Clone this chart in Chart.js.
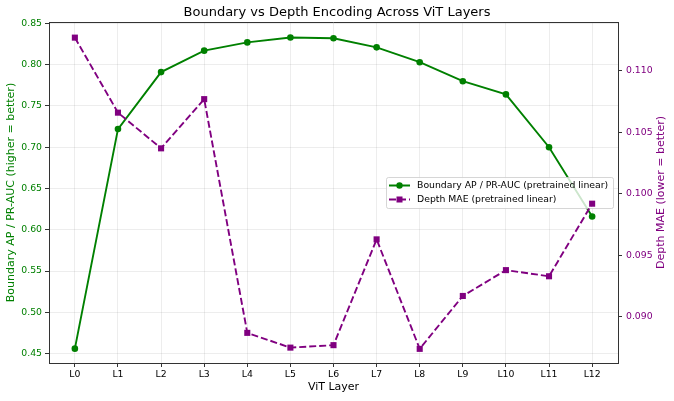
<!DOCTYPE html>
<html>
<head>
<meta charset="utf-8">
<script src="https://cdn.jsdelivr.net/npm/chart.js@4.4.1/dist/chart.umd.min.js"></script>
<style>
  html, body { margin: 0; padding: 0; background: #ffffff; }
  #wrap { width: 674px; height: 401px; position: relative; }
</style>
</head>
<body>
<div id="wrap"><canvas id="c" width="674" height="401"></canvas></div>
<script>
// ---- data ----
const layers = ["L0","L1","L2","L3","L4","L5","L6","L7","L8","L9","L10","L11","L12"];
const boundaryAP = [0.456, 0.722, 0.791, 0.817, 0.827, 0.833, 0.832, 0.821, 0.803, 0.780, 0.764, 0.700, 0.616];
const depthMAE = [0.1127, 0.1066, 0.1037, 0.1077, 0.0887, 0.0875, 0.0877, 0.0963, 0.0874, 0.0917, 0.0938, 0.0933, 0.0992];
const leftTicks = [0.45, 0.50, 0.55, 0.60, 0.65, 0.70, 0.75, 0.80, 0.85];
const rightTicks = [0.090, 0.095, 0.100, 0.105, 0.110];
const seriesLabels = ["Boundary AP / PR-AUC (pretrained linear)", "Depth MAE (pretrained linear)"];
const rightTitle = 'Depth MAE (lower = better)';

const GREEN = '#008000';
const PURPLE = '#800080';
const FONT = "'DejaVu Sans', sans-serif";

const toPts = arr => arr.map((v, i) => ({ x: i, y: v }));

const legendPlugin = {
  id: 'mplLegend',
  beforeDatasetDraw(chart, args) {
    if (args.index !== 1) return;
    const ctx = chart.ctx;
    const x0 = 386, y0 = 177, w = 227, h = 31;
    ctx.save();
    ctx.fillStyle = 'rgba(255,255,255,0.8)';
    ctx.strokeStyle = 'rgba(204,204,204,0.8)';
    ctx.lineWidth = 1;
    ctx.beginPath();
    if (ctx.roundRect) ctx.roundRect(x0 + 0.5, y0 + 0.5, w, h, 2); else ctx.rect(x0 + 0.5, y0 + 0.5, w, h);
    ctx.fill();
    ctx.stroke();
    const rows = [
      { y: 185.5, color: GREEN, style: 'circle', dash: [] },
      { y: 199.5, color: PURPLE, style: 'rect', dash: [7, 3] }
    ];
    rows.forEach((r, i) => {
      ctx.strokeStyle = r.color;
      ctx.lineWidth = 2;
      ctx.setLineDash(r.dash);
      ctx.beginPath();
      ctx.moveTo(389, r.y);
      ctx.lineTo(410, r.y);
      ctx.stroke();
      ctx.setLineDash([]);
      ctx.fillStyle = r.color;
      if (r.style === 'circle') {
        ctx.beginPath();
        ctx.arc(399.5, r.y, 3.2, 0, Math.PI * 2);
        ctx.fill();
      } else {
        ctx.fillRect(396.5, r.y - 3, 6, 6);
      }
      ctx.fillStyle = '#000';
      ctx.font = "9.3px " + FONT;
      ctx.textAlign = 'left';
      ctx.textBaseline = 'middle';
      ctx.fillText(seriesLabels[i], 417, r.y + 0.5);
    });
    ctx.restore();
  },
  afterDraw(chart) {
    const a = chart.chartArea;
    const ctx = chart.ctx;
    ctx.save();
    ctx.strokeStyle = '#333';
    ctx.lineWidth = 1;
    ctx.beginPath();
    ctx.moveTo(a.left, Math.round(a.top) + 0.5);
    ctx.lineTo(a.right, Math.round(a.top) + 0.5);
    ctx.stroke();
    // right axis title, reading bottom-to-top
    ctx.translate(660.7, (a.top + a.bottom) / 2);
    ctx.rotate(-Math.PI / 2);
    ctx.fillStyle = PURPLE;
    ctx.font = "11px " + FONT;
    ctx.textAlign = 'center';
    ctx.textBaseline = 'middle';
    ctx.fillText(rightTitle, 0, 0);
    ctx.restore();
  }
};

new Chart(document.getElementById('c'), {
  type: 'line',
  data: {
    datasets: [
      {
        label: seriesLabels[0],
        data: toPts(boundaryAP),
        yAxisID: 'y',
        borderColor: GREEN,
        backgroundColor: GREEN,
        borderWidth: 1.9,
        pointStyle: 'circle',
        pointRadius: 3.3,
        pointBorderWidth: 0,
        tension: 0,
        order: 1
      },
      {
        label: seriesLabels[1],
        data: toPts(depthMAE),
        yAxisID: 'y2',
        borderColor: PURPLE,
        backgroundColor: PURPLE,
        borderWidth: 1.9,
        borderDash: [7, 3],
        pointStyle: 'rect',
        pointRadius: 4.3,
        pointBorderWidth: 0,
        tension: 0,
        order: 0
      }
    ]
  },
  plugins: [legendPlugin],
  options: {
    responsive: false,
    animation: false,
    events: [],
    layout: { padding: { left: 0, right: 0, top: 0, bottom: 0 } },
    plugins: {
      legend: { display: false },
      tooltip: { enabled: false },
      title: {
        display: true,
        text: 'Boundary vs Depth Encoding Across ViT Layers',
        color: '#000',
        font: { family: FONT, size: 13, weight: 'normal' },
        padding: { top: 5, bottom: 1.4 }
      }
    },
    scales: {
      x: {
        type: 'linear',
        min: -0.6,
        max: 12.6,
        afterBuildTicks: s => { s.ticks = layers.map((c, i) => ({ value: i })); },
        afterFit: s => { s.height = 38; },
        ticks: {
          autoSkip: false,
          maxRotation: 0,
          color: '#000',
          padding: 2,
          font: { family: FONT, size: 9.3 },
          callback: v => layers[v]
        },
        grid: {
          color: 'rgba(0,0,0,0.09)',
          lineWidth: 0.8,
          tickLength: 4,
          tickColor: '#333',
          tickWidth: 1
        },
        border: { display: true, color: '#333', width: 1 },
        title: {
          display: true,
          text: 'ViT Layer',
          color: '#000',
          font: { family: FONT, size: 11 },
          padding: { top: 0, bottom: 7.4 }
        }
      },
      y: {
        type: 'linear',
        position: 'left',
        min: 0.4386,
        max: 0.8517,
        afterBuildTicks: s => { s.ticks = leftTicks.map(v => ({ value: v })); },
        afterFit: s => { s.width = 49; },
        ticks: {
          color: GREEN,
          padding: 3,
          font: { family: FONT, size: 9.3 },
          callback: v => v.toFixed(2)
        },
        grid: {
          color: 'rgba(0,0,0,0.09)',
          lineWidth: 0.8,
          tickLength: 4,
          tickColor: '#333',
          tickWidth: 1
        },
        border: { display: true, color: '#333', width: 1 },
        title: {
          display: true,
          text: 'Boundary AP / PR-AUC (higher = better)',
          color: GREEN,
          font: { family: FONT, size: 11 },
          padding: { top: 4.5, bottom: 0 }
        }
      },
      y2: {
        type: 'linear',
        position: 'right',
        min: 0.08625,
        max: 0.11397,
        afterBuildTicks: s => { s.ticks = rightTicks.map(v => ({ value: v })); },
        afterFit: s => { s.width = 56; },
        ticks: {
          color: PURPLE,
          padding: 4,
          font: { family: FONT, size: 9.3 },
          callback: v => v.toFixed(3)
        },
        grid: {
          drawOnChartArea: false,
          tickLength: 4,
          tickColor: '#333',
          tickWidth: 1
        },
        border: { display: true, color: '#333', width: 1 },
        title: { display: false }
      }
    }
  }
});
</script>
</body>
</html>
